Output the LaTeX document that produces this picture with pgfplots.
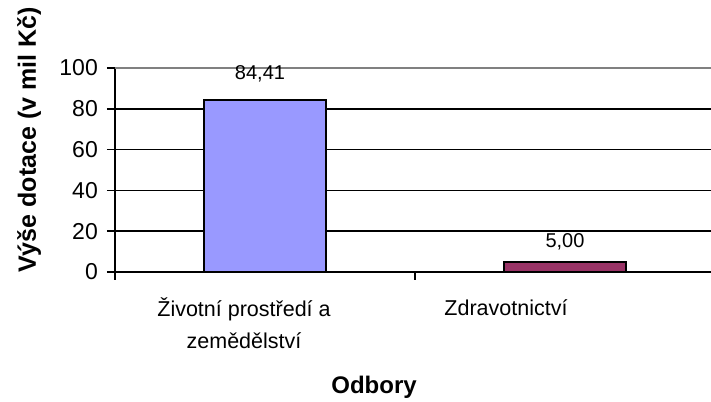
\documentclass[border=0pt]{standalone}
\usepackage{pgfplots}
\pgfplotsset{compat=1.18}
\usepackage{fontspec}
\setmainfont{Liberation Sans}
\definecolor{barA}{HTML}{9999FF}
\definecolor{barB}{HTML}{993366}
\definecolor{topgray}{HTML}{808080}
\begin{document}
\begin{tikzpicture}[x=1pt,y=1pt]
\path[use as bounding box] (-115,-129) rectangle (596,272);
\begin{axis}[
  at={(0,0)}, anchor=south west,
  scale only axis, width=600pt, height=204pt,
  xmin=-0.5, xmax=1.5, ymin=0, ymax=100,
  axis x line*=bottom, axis y line*=left,
  axis line style={black, line width=1.6pt},
  ytick={0,20,40,60,80,100},
  xtick={-0.5,0.5,1.5}, xticklabels={},
  tick align=outside, major tick length=8pt,
  tick style={black, line width=1.6pt},
  ymajorgrids, major grid style={black, line width=1.6pt},
  yticklabel style={font=\fontsize{23}{27}\selectfont, inner sep=1pt, xshift=-8pt},
  /pgf/number format/assume math mode=true,
  clip=false,
]
\addplot[ybar, bar shift=0pt, bar width=122pt, fill=barA, draw=black, line width=1.6pt,
  point meta=y, nodes near coords={\pgfmathprintnumber[fixed,fixed zerofill,precision=2,use comma]{\pgfplotspointmeta}},
  nodes near coords style={font=\fontsize{20}{24}\selectfont, anchor=base, inner sep=0pt, yshift=20pt, xshift=-5pt, /pgf/number format/assume math mode=true}]
  coordinates {(0,84.41)};
\addplot[ybar, bar shift=0pt, bar width=122pt, fill=barB, draw=black, line width=1.6pt,
  point meta=y, nodes near coords={\pgfmathprintnumber[fixed,fixed zerofill,precision=2,use comma]{\pgfplotspointmeta}},
  nodes near coords style={font=\fontsize{20}{24}\selectfont, anchor=base, inner sep=0pt, yshift=14pt, /pgf/number format/assume math mode=true}]
  coordinates {(1,5.00)};
\draw[topgray, line width=2.2pt] (axis cs:-0.5,100) -- (axis cs:1.5,100);
\end{axis}
\node[anchor=base, inner sep=0pt, font=\fontsize{21.5}{25}\selectfont] at (129,-44.7) {Životní prostředí a};
\node[anchor=base, inner sep=0pt, font=\fontsize{21.5}{25}\selectfont] at (129,-76) {zemědělství};
\node[anchor=base, inner sep=0pt, font=\fontsize{21.5}{25}\selectfont] at (391,-43) {Zdravotnictví};
\node[anchor=base, inner sep=0pt, font=\fontsize{24}{28}\selectfont\bfseries] at (259,-121) {Odbory};
\node[anchor=base, inner sep=0pt, rotate=90, font=\fontsize{25}{29}\selectfont\bfseries] at (-79,132) {Výše dotace (v mil Kč)};
\end{tikzpicture}
\end{document}
